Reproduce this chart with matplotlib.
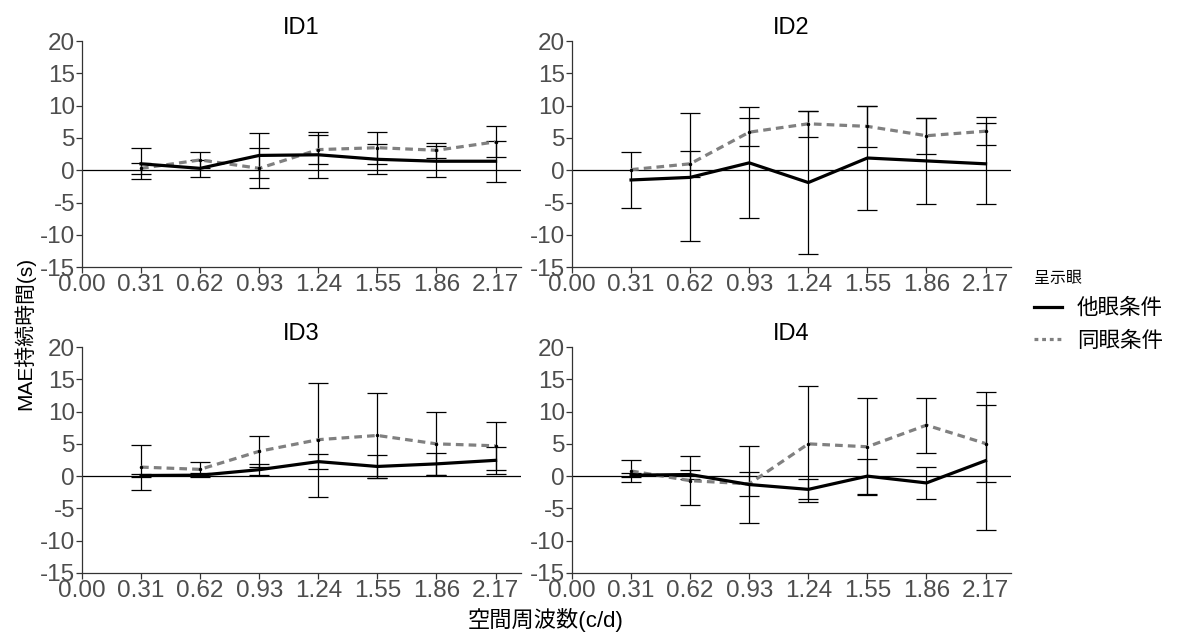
import numpy as np
import matplotlib.pyplot as plt
from matplotlib.lines import Line2D

plt.rcParams['font.family'] = ['Liberation Sans', 'Noto Sans CJK JP', 'DejaVu Sans']
plt.rcParams['axes.unicode_minus'] = False

freq = [0.31, 0.62, 0.93, 1.24, 1.55, 1.86, 2.17]
xticks = [0.00, 0.31, 0.62, 0.93, 1.24, 1.55, 1.86, 2.17]
panels = ['ID1', 'ID2', 'ID3', 'ID4']
series = ['他眼条件', '同眼条件']

# 他眼条件 (solid) mean / error
other_mean = {
    'ID1': [1.0, 0.3, 2.3, 2.4, 1.7, 1.4, 1.4],
    'ID2': [-1.5, -1.1, 1.15, -1.9, 1.9, 1.45, 1.0],
    'ID3': [0.1, 0.15, 1.0, 2.25, 1.5, 1.9, 2.45],
    'ID4': [0.15, 0.25, -1.3, -2.05, 0.0, -1.05, 2.4],
}
other_err = {
    'ID1': [2.4, 1.3, 3.5, 3.6, 2.3, 2.4, 3.15],
    'ID2': [4.3, 9.9, 8.6, 11.1, 8.0, 6.7, 6.3],
    'ID3': [0.25, 0.3, 0.85, 1.15, 1.8, 1.7, 2.05],
    'ID4': [0.35, 0.75, 5.9, 1.55, 2.7, 2.5, 10.7],
}
# 同眼条件 (dashed) mean / error
same_mean = {
    'ID1': [0.3, 1.6, 0.3, 3.2, 3.5, 3.1, 4.4],
    'ID2': [0.1, 1.0, 5.9, 7.2, 6.8, 5.35, 6.05],
    'ID3': [1.4, 1.05, 3.85, 5.65, 6.3, 5.0, 4.7],
    'ID4': [0.8, -0.7, -1.2, 5.0, 4.55, 7.9, 5.05],
}
same_err = {
    'ID1': [0.9, 1.2, 3.1, 2.2, 2.5, 1.2, 2.4],
    'ID2': [np.nan, 2.0, 2.2, 2.0, 3.15, 2.8, 2.2],
    'ID3': [3.5, 1.1, 2.4, 8.85, 6.6, 4.9, 3.75],
    'ID4': [1.75, 3.75, 1.8, 9.0, 7.5, 4.25, 6.0],
}

fig = plt.figure(figsize=(11.81, 6.33), dpi=100)
pos = {
    'ID1': [0.0694, 0.578, 0.372, 0.357],
    'ID2': [0.4843, 0.578, 0.372, 0.357],
    'ID3': [0.0694, 0.0948, 0.372, 0.357],
    'ID4': [0.4843, 0.0948, 0.372, 0.357],
}
axcol = '#333333'
tickcol = '#4d4d4d'

for p in panels:
    ax = fig.add_axes(pos[p])
    ax.axhline(0, color='black', lw=0.9, zorder=1)
    ax.errorbar(freq, other_mean[p], yerr=other_err[p], fmt='none',
                ecolor='black', elinewidth=0.9, capsize=7, capthick=0.9, zorder=2)
    ax.errorbar(freq, same_mean[p], yerr=same_err[p], fmt='none',
                ecolor='black', elinewidth=0.9, capsize=7, capthick=0.9, zorder=2)
    ax.plot(freq, other_mean[p], color='black', lw=2.3, zorder=4)
    ax.plot(freq, same_mean[p], color='#808080', lw=2.3, ls=(0, (2.4, 1.6)), zorder=3)
    ax.plot(freq, same_mean[p], 'o', color='black', ms=1.5, zorder=5)
    ax.set_xlim(0, 2.305)
    ax.set_ylim(-15, 20)
    ax.set_xticks(xticks)
    ax.set_xticklabels([f'{v:.2f}' for v in xticks])
    ax.set_yticks(range(-15, 21, 5))
    for s in ['top', 'right']:
        ax.spines[s].set_visible(False)
    for s in ['left', 'bottom']:
        ax.spines[s].set_color(axcol)
        ax.spines[s].set_linewidth(0.9)
    ax.tick_params(axis='both', colors=axcol, labelcolor=tickcol, labelsize=17.5,
                   length=4, width=0.9, pad=1)
    ax.set_title(p, fontsize=17, color='black', pad=5)

fig.text(0.021, 0.473, 'MAE持続時間(s)', rotation=90, ha='center', va='center', fontsize=15)
fig.text(0.462, 0.02, '空間周波数(c/d)', ha='center', va='center', fontsize=16)

handles = [Line2D([], [], color='black', lw=2.3),
           Line2D([], [], color='#808080', lw=2.3, ls=(0, (1.2, 1.2)))]
leg = fig.legend(handles, series, title='呈示眼', loc='upper left',
                 bbox_to_anchor=(0.868, 0.585), frameon=False, fontsize=15.5,
                 title_fontsize=11.5, handlelength=1.3, handletextpad=0.7,
                 labelspacing=0.55, borderaxespad=0)
leg._legend_box.align = 'left'

fig.savefig('out.png', dpi=100)
